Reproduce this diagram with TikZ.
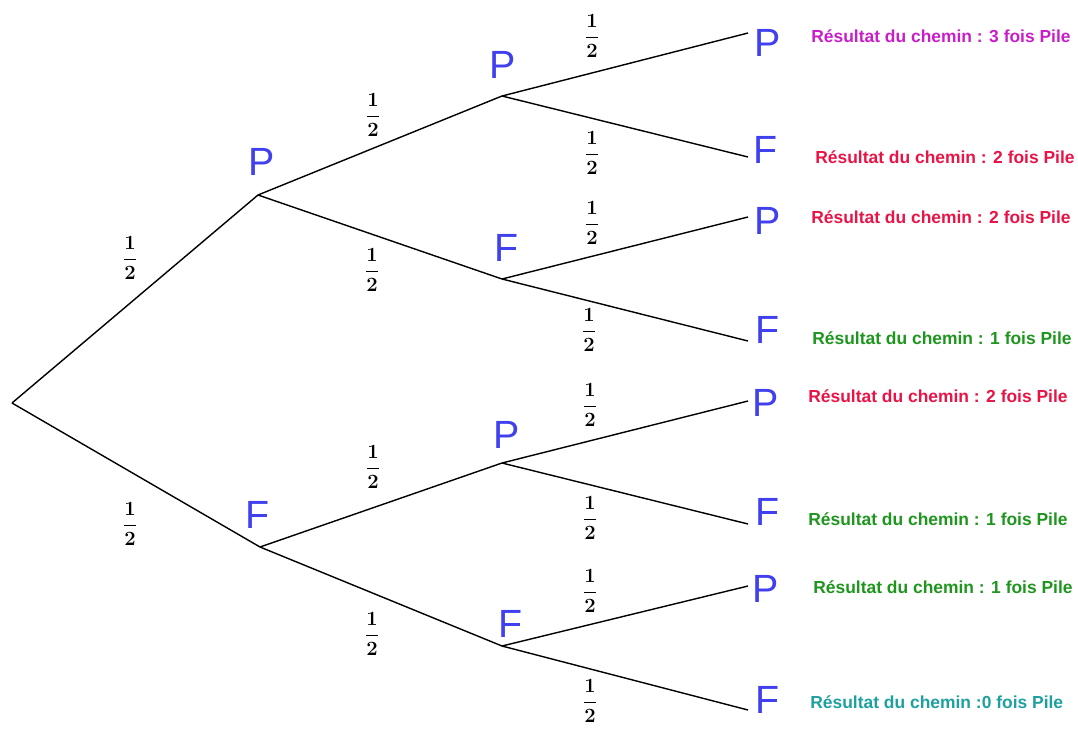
\documentclass[tikz,border=0pt]{standalone}
\usepackage{amsmath}
\usepackage{fontspec}
\newfontfamily\arialfont{Liberation Sans}
\definecolor{lettre}{RGB}{64,64,238}
\definecolor{violet}{RGB}{200,30,200}
\definecolor{rouge}{RGB}{232,20,70}
\definecolor{vert}{RGB}{30,150,30}
\definecolor{turquoise}{RGB}{30,160,160}
\tikzset{
  lettre/.style={text=lettre, font=\arialfont\fontsize{28}{30}\selectfont, inner sep=0pt},
  proba/.style={font=\fontsize{15}{17}\selectfont\boldmath, inner sep=0pt},
  resultat/.style={font=\arialfont\bfseries\fontsize{12.4}{14}\selectfont, anchor=west, inner sep=0pt},
  branche/.style={line width=1pt}
}
\begin{document}
\begin{tikzpicture}[x=0.025cm, y=-0.025cm]

\useasboundingbox (0,0) rectangle (1078,731);

\coordinate (v0) at (12,403);
\coordinate (v1) at (258,195);
\coordinate (v2) at (260,547);
\coordinate (v11) at (502,96);
\coordinate (v12) at (502,279);
\coordinate (v21) at (502,463);
\coordinate (v22) at (502,646);
\coordinate (v111) at (748,33);
\coordinate (v112) at (748,157);
\coordinate (v121) at (748,217);
\coordinate (v122) at (748,341);
\coordinate (v211) at (748,401);
\coordinate (v212) at (748,524);
\coordinate (v221) at (748,586);
\coordinate (v222) at (748,710);

\draw [branche] (v0) -- (v1);
\draw [branche] (v0) -- (v2);
\draw [branche] (v1) -- (v11);
\draw [branche] (v1) -- (v12);
\draw [branche] (v2) -- (v21);
\draw [branche] (v2) -- (v22);
\draw [branche] (v11) -- (v111);
\draw [branche] (v11) -- (v112);
\draw [branche] (v12) -- (v121);
\draw [branche] (v12) -- (v122);
\draw [branche] (v21) -- (v211);
\draw [branche] (v21) -- (v212);
\draw [branche] (v22) -- (v221);
\draw [branche] (v22) -- (v222);

\node [lettre] (l1) at (262,162) {P};
\node [lettre] (l2) at (258,515) {F};
\node [lettre] (l11) at (503,65) {P};
\node [lettre] (l12) at (507,248) {F};
\node [lettre] (l21) at (507,435) {P};
\node [lettre] (l22) at (511,624) {F};
\node [lettre] (l111) at (768,43) {P};
\node [lettre] (l112) at (766,150) {F};
\node [lettre] (l121) at (768,221) {P};
\node [lettre] (l122) at (768,330) {F};
\node [lettre] (l211) at (766,403) {P};
\node [lettre] (l212) at (768,512) {F};
\node [lettre] (l221) at (766,589) {P};
\node [lettre] (l222) at (768,700) {F};

\node [proba] (p1) at (130,258) {$\dfrac{1}{2}$};
\node [proba] (p2) at (130,524) {$\dfrac{1}{2}$};
\node [proba] (p11) at (373,115) {$\dfrac{1}{2}$};
\node [proba] (p12) at (372,270) {$\dfrac{1}{2}$};
\node [proba] (p21) at (373,467) {$\dfrac{1}{2}$};
\node [proba] (p22) at (372,634) {$\dfrac{1}{2}$};
\node [proba] (p111) at (592,36) {$\dfrac{1}{2}$};
\node [proba] (p112) at (592,153) {$\dfrac{1}{2}$};
\node [proba] (p121) at (592,223) {$\dfrac{1}{2}$};
\node [proba] (p122) at (589,330) {$\dfrac{1}{2}$};
\node [proba] (p211) at (590,405) {$\dfrac{1}{2}$};
\node [proba] (p212) at (590,518) {$\dfrac{1}{2}$};
\node [proba] (p221) at (590,591) {$\dfrac{1}{2}$};
\node [proba] (p222) at (590,701) {$\dfrac{1}{2}$};

\node [resultat, text=violet] (r111) at (811,36) {Résultat du chemin : 3 fois Pile};
\node [resultat, text=rouge] (r112) at (815,157) {Résultat du chemin : 2 fois Pile};
\node [resultat, text=rouge] (r121) at (811,217) {Résultat du chemin : 2 fois Pile};
\node [resultat, text=vert] (r122) at (812,338) {Résultat du chemin : 1 fois Pile};
\node [resultat, text=rouge] (r211) at (808,396) {Résultat du chemin : 2 fois Pile};
\node [resultat, text=vert] (r212) at (808,519) {Résultat du chemin : 1 fois Pile};
\node [resultat, text=vert] (r221) at (813,587) {Résultat du chemin : 1 fois Pile};
\node [resultat, text=turquoise] (r222) at (810,702) {Résultat du chemin :0 fois Pile};

\end{tikzpicture}
\end{document}
